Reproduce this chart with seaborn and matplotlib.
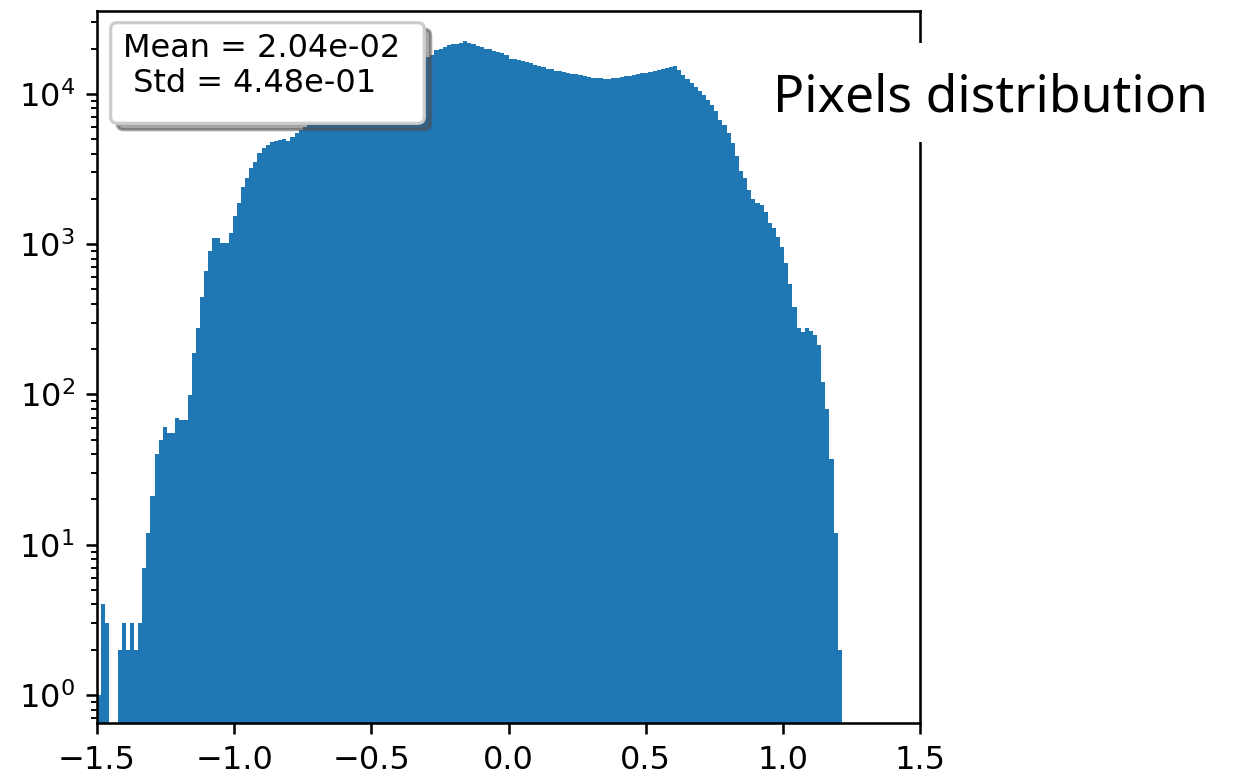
import numpy as np
import pandas as pd
import matplotlib
matplotlib.use("Agg")
import matplotlib.pyplot as plt
from matplotlib.patches import Rectangle, FancyBboxPatch, Shadow
from matplotlib.transforms import IdentityTransform
import seaborn as sns

# Histogram of normalised pixel values: 0.015-wide bins starting at -1.5
bin_width = 0.015
x_min, x_max = -1.5, 1.5
pixel_counts = [
    1, 4, 3, 0, 0, 2, 3, 2, 3, 2,
    3, 7, 12, 21, 40, 50, 61, 55, 55, 70,
    68, 68, 99, 188, 276, 443, 665, 903, 1092, 1092,
    1021, 1021, 1180, 1540, 1890, 2410, 2740, 3190, 3540, 4060,
    4340, 4560, 4780, 4870, 4920, 4980, 4850, 5190, 5460, 5740,
    6000, 6250, 6500, 6800, 7100, 7400, 7700, 8000, 8350, 8700,
    9050, 9400, 9800, 10200, 10600, 11000, 11400, 11800, 12200, 12650,
    13100, 13550, 14000, 14450, 14900, 15350, 15800, 16250, 16700, 17150,
    17600, 18100, 19550, 19860, 20500, 21000, 21450, 21450, 21900, 22440,
    21900, 21350, 20900, 20600, 20000, 19780, 19350, 19100, 18600, 18200,
    17100, 16960, 16700, 16500, 16250, 16100, 15600, 15300, 15000, 14700,
    14550, 14250, 14200, 13900, 13680, 13600, 13480, 13270, 13130, 13000,
    12800, 12680, 12680, 12600, 12480, 12750, 12800, 13000, 13130, 13200,
    13400, 13500, 13680, 13850, 14030, 14200, 14400, 14620, 14900, 15000,
    15390, 14390, 13340, 12480, 11740, 11040, 10490, 9820, 9090, 8420,
    7720, 6700, 6200, 5510, 4690, 3860, 3060, 2770, 2290, 1990,
    1890, 1810, 1640, 1390, 1270, 1120, 950, 750, 540, 384,
    275, 261, 275, 265, 248, 213, 120, 80, 37, 12,
    2,
]
stats_lines = ["Mean = 2.04e-02", " Std = 4.48e-01"]
side_title = "Pixels distribution"

n_bins = int(round((x_max - x_min) / bin_width))
edges = (x_min + bin_width * np.arange(n_bins + 1)).tolist()
centers = [edges[i] + bin_width / 2 for i in range(len(pixel_counts))]
df = pd.DataFrame({"value": centers, "count": pixel_counts})

sns.set_style("ticks")
plt.rcParams.update({
    "font.family": ["DejaVu Sans"],
    "font.size": 10,
    "axes.edgecolor": "black",
    "axes.linewidth": 0.8,
    "text.color": "black",
    "xtick.color": "black",
    "ytick.color": "black",
    "xtick.major.size": 3.5,
    "ytick.major.size": 3.5,
    "xtick.major.width": 0.8,
    "ytick.major.width": 0.8,
    "ytick.minor.size": 2,
    "ytick.minor.width": 0.6,
    "xtick.direction": "out",
    "ytick.direction": "out",
})

W, H, DPI = 1247, 778, 230
fig = plt.figure(figsize=(W / DPI, H / DPI), dpi=DPI)
fig.patch.set_facecolor("white")
ax = fig.add_axes([97 / W, 55 / H, 823 / W, 712 / H])

sns.histplot(data=df, x="value", weights="count", bins=edges,
             element="step", fill=True, color="#1f77b4", alpha=1,
             linewidth=0, ax=ax)
ax.set_yscale("log")
ax.set_xlim(x_min, x_max)
ax.set_ylim(0.651, 35560)
ax.set_xticks(np.arange(-1.5, 1.51, 0.5))
ax.set_xlabel("")
ax.set_ylabel("")
for side in ("top", "right"):
    ax.spines[side].set_visible(True)

# statistics box (rounded frame with drop shadow), in pixel coordinates
px = IdentityTransform()
bx0, bx1, by_top, by_bot = 110.7, 424.3, 22.7, 123.3
box = FancyBboxPatch((bx0, H - by_bot), bx1 - bx0, by_bot - by_top,
                     boxstyle="round,pad=0,rounding_size=6.5",
                     facecolor="white", edgecolor="0.8", linewidth=1.0,
                     transform=px, zorder=5)
shadow = Shadow(box, 2, -2)
shadow.set_zorder(4.9)
fig.add_artist(shadow)
fig.add_artist(box)
# anchored at the baseline of the last line
fig.text(123.3 / W, 1 - 91.7 / H, "\n".join(stats_lines), fontsize=10,
         ha="left", va="baseline", linespacing=1.15, zorder=6)

# white panel carrying the side title
fig.add_artist(Rectangle((760 / W, 1 - 142 / H), (W - 760) / W, 99 / H,
                         transform=fig.transFigure, facecolor="white",
                         edgecolor="none", zorder=3))
fig.text(773 / W, 1 - 112 / H, side_title, fontsize=16.2, family="Noto Sans",
         ha="left", va="baseline", zorder=4)

fig.savefig("out.png", dpi=DPI, facecolor="white")
